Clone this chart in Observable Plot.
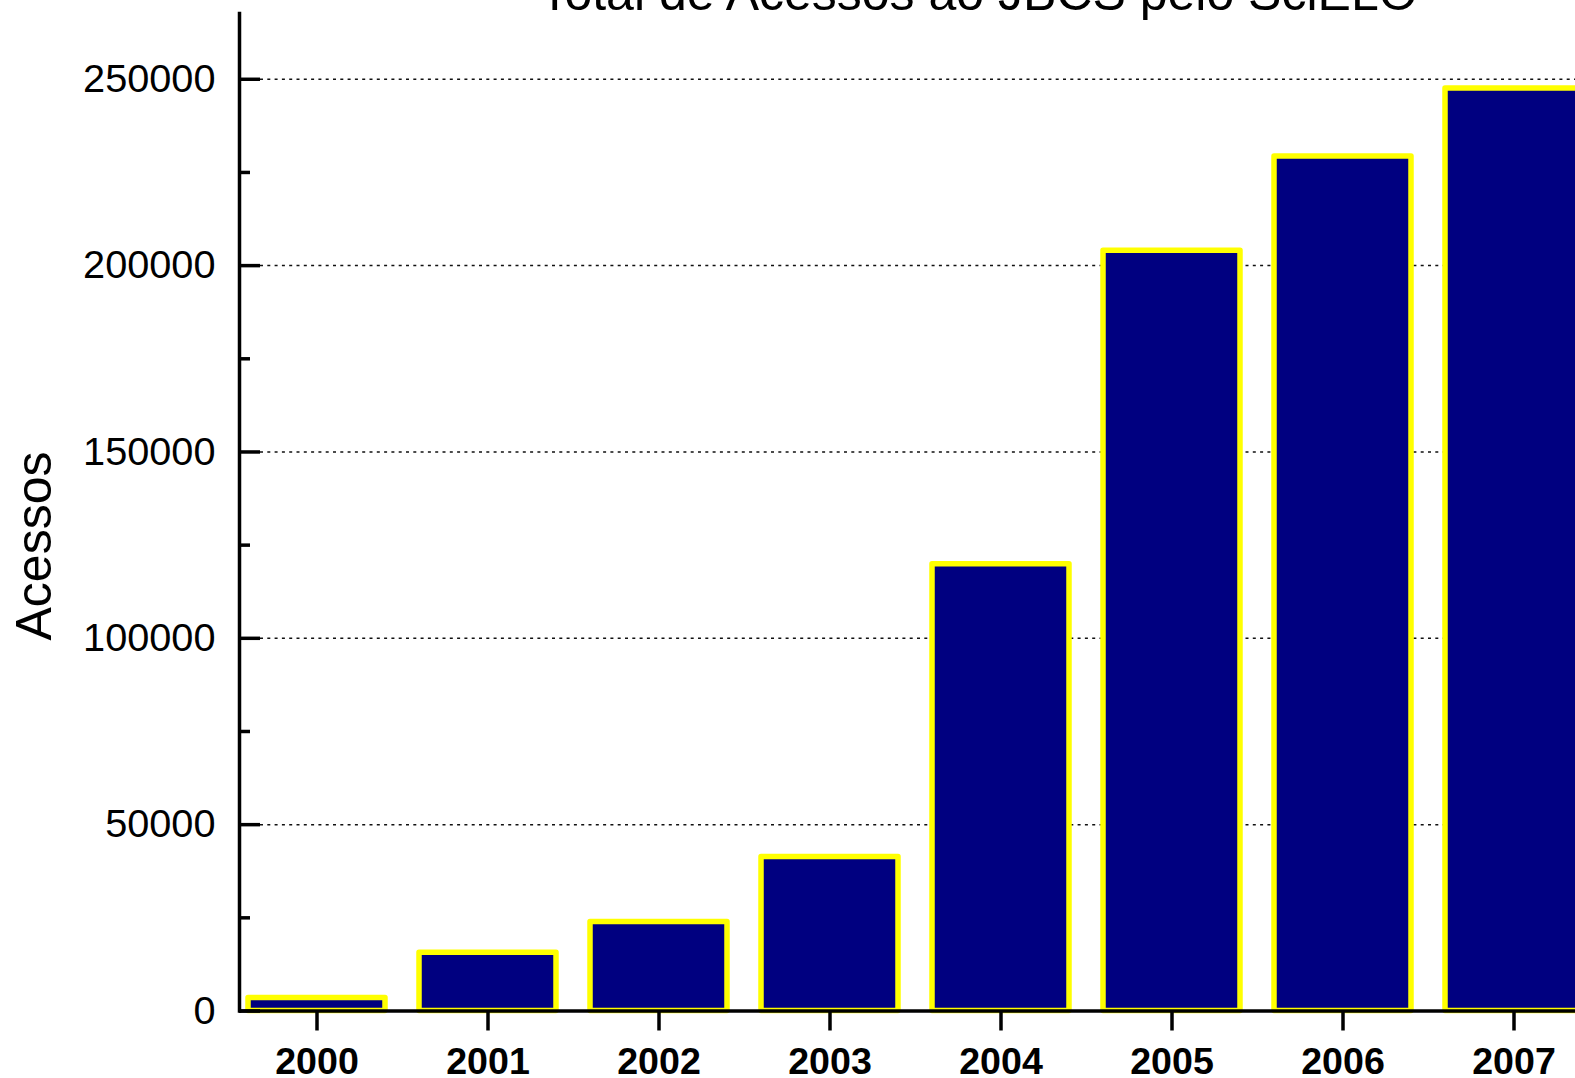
<!DOCTYPE html>
<html>
<head>
<meta charset="utf-8">
<script src="https://cdn.jsdelivr.net/npm/d3@7"></script>
<script src="https://cdn.jsdelivr.net/npm/@observablehq/plot@0.6"></script>
<style>
  html, body { margin: 0; padding: 0; background: #ffffff; overflow: hidden; }
  #chart svg { display: block; }
</style>
</head>
<body>
<div id="chart"></div>
<script>
const title = "Total de Acessos ao JBCS pelo SciELO";
const yLabel = "Acessos";
const years = ["2000", "2001", "2002", "2003", "2004", "2005", "2006", "2007"];
const acessos = [3500, 15600, 23900, 41300, 119900, 204000, 229300, 247500];
const majorTicks = [0, 50000, 100000, 150000, 200000, 250000];
const minorTicks = [25000, 75000, 125000, 175000, 225000];
const gridTicks = [50000, 100000, 150000, 200000, 250000];

const data = years.map((year, i) => ({year, value: acessos[i]}));

const W = 1575, H = 1078;
const font = "'Liberation Sans', Arial, Helvetica, sans-serif";

const chart = Plot.plot({
  width: W,
  height: H,
  marginLeft: 239,
  marginRight: 0,
  marginTop: 13,
  marginBottom: 67.5,
  style: {fontFamily: font, color: "#000", background: "#fff", overflow: "hidden"},
  x: {type: "band", domain: years, range: [239, 1591], paddingInner: 0.2, paddingOuter: 0.043, label: null},
  y: {domain: [0, 267650], label: null},
  marks: [
    Plot.ruleY(gridTicks, {y: d => d, insetLeft: 21, stroke: "#111", strokeWidth: 1.5, strokeDasharray: "3,4.3"}),
    Plot.barY(data, {x: "year", y: "value", fill: "#000080", stroke: "#ffff00", strokeWidth: 5.5, strokeLinejoin: "round"}),
    Plot.ruleY(majorTicks, {y: d => d, insetRight: W - 239 - 21, stroke: "#000", strokeWidth: 3.5}),
    Plot.ruleY(minorTicks, {y: d => d, insetRight: W - 239 - 11, stroke: "#000", strokeWidth: 3.5}),
    Plot.frame({anchor: "left", stroke: "#000", strokeWidth: 3.5}),
    Plot.ruleY([0], {stroke: "#000", strokeWidth: 3.5}),
    Plot.axisY({ticks: majorTicks, tickSize: 0, tickPadding: 24, tickFormat: "d", fontSize: 39.7, label: null}),
    Plot.axisX({tickSize: 20, tickPadding: 16, strokeWidth: 3.5, fontSize: 37.6, fontWeight: "bold", label: null}),
    Plot.text([title], {frameAnchor: "top-left", dx: 739, dy: -3.7, lineAnchor: "bottom", textAnchor: "middle", fontSize: 50, fill: "#000"}),
    Plot.text([yLabel], {frameAnchor: "left", dx: -189, dy: 33.75, rotate: -90, lineAnchor: "bottom", textAnchor: "middle", fontSize: 50, fill: "#000"})
  ]
});
document.getElementById("chart").appendChild(chart);
</script>
</body>
</html>
